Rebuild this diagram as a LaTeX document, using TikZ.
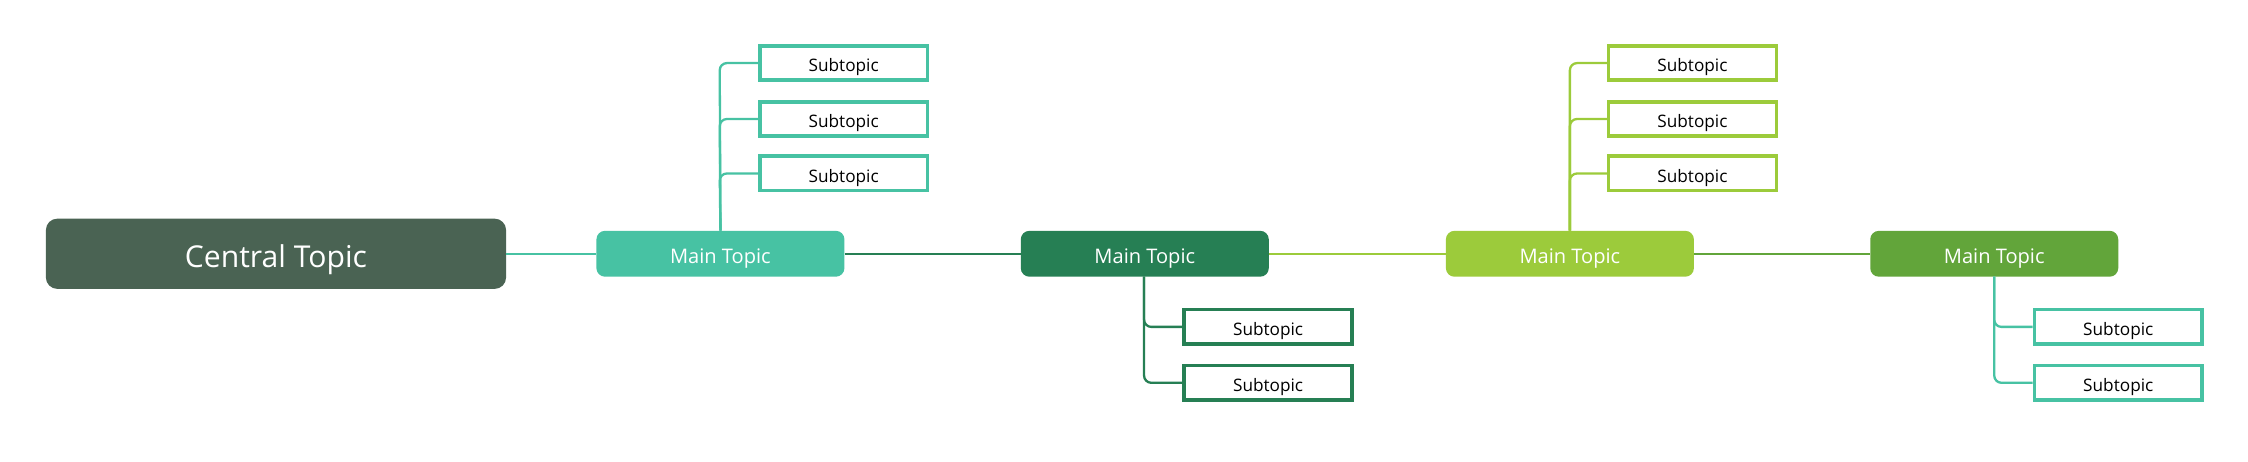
\documentclass[tikz,border=0pt]{standalone}
\usepackage{fontspec}
\setmainfont{Open Sans}
\definecolor{cen}{HTML}{4A6353}
\definecolor{ca}{HTML}{47C2A3}
\definecolor{cb}{HTML}{267F54}
\definecolor{cc}{HTML}{9CCB3B}
\definecolor{cd}{HTML}{62A53A}
\begin{document}
\begin{tikzpicture}[x=1pt,y=-1pt,
  mainbox/.style={rounded corners=6pt,text=white,font=\fontsize{14}{16}\selectfont,inner sep=0pt,minimum width=173pt,minimum height=32pt,text depth=0pt,text height=13pt},
  subbox/.style={draw=#1,line width=2.5pt,fill=white,font=\fontsize{12}{14}\selectfont,inner sep=0pt,minimum width=117pt,minimum height=24pt,text depth=0pt,text height=12pt},
  link/.style={draw=#1,line width=1.6pt,rounded corners=5pt}]
\useasboundingbox (0,0) rectangle (1568,322);
\node[rounded corners=8pt,fill=cen,text=white,font=\fontsize{21}{24}\selectfont,minimum width=321pt,minimum height=49pt,inner sep=0pt,text depth=0pt,text height=19pt] (c) at (192.5,177) {Central Topic};
\node[mainbox,fill=ca] (m1) at (502.5,177) {Main Topic};
\node[mainbox,fill=cb] (m2) at (798.5,177) {Main Topic};
\node[mainbox,fill=cc] (m3) at (1095,177) {Main Topic};
\node[mainbox,fill=cd] (m4) at (1391,177) {Main Topic};
\draw[link=ca] (c.east) -- (m1.west);
\draw[link=cb] (m1.east) -- (m2.west);
\draw[link=cc] (m2.east) -- (m3.west);
\draw[link=cd] (m3.east) -- (m4.west);
\foreach \i/\y in {1/44,2/83,3/121}{
  \node[subbox=ca] (a\i) at (588.5,\y) {Subtopic};
  \draw[link=ca] (m1.north) -- (502,\y) -- (a\i.west);
}
\foreach \i/\y in {1/44,2/83,3/121}{
  \node[subbox=cc] (s\i) at (1180.5,\y) {Subtopic};
  \draw[link=cc] (m3.north) -- (1095,\y) -- (s\i.west);
}
\foreach \i/\y in {1/228,2/267}{
  \node[subbox=cb] (b\i) at (884.5,\y) {Subtopic};
  \draw[link=cb] (798,193) -- (798,\y) -- (b\i.west);
  \node[subbox=ca] (d\i) at (1477.5,\y) {Subtopic};
  \draw[link=ca] (1391,193) -- (1391,\y) -- (d\i.west);
}
\end{tikzpicture}
\end{document}
